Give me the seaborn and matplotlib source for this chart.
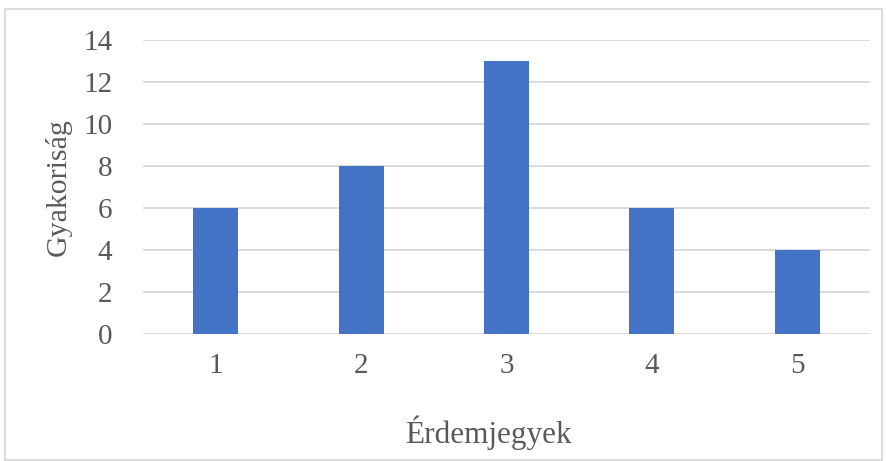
import matplotlib
matplotlib.use("Agg")
import matplotlib.pyplot as plt
import seaborn as sns
import pandas as pd
from matplotlib.patches import Rectangle

grades = ["1", "2", "3", "4", "5"]
counts = [6, 8, 13, 6, 4]
y_ticks = [0, 2, 4, 6, 8, 10, 12, 14]

df = pd.DataFrame({"Érdemjegyek": grades, "Gyakoriság": counts})

sns.set_style("white")
plt.rcParams["font.family"] = ["Liberation Serif", "DejaVu Serif"]

W, H = 887, 461
fig = plt.figure(figsize=(W / 100, H / 100), dpi=100)
ax = fig.add_axes([143 / W, 1 - 334 / H, (870 - 143) / W, (334 - 40) / H])

sns.barplot(data=df, x="Érdemjegyek", y="Gyakoriság", color="#4472C4",
            saturation=1, width=0.31, linewidth=0, ax=ax, zorder=3)

ax.set_ylim(0, 14)
ax.set_xlim(-0.5, len(grades) - 0.5)
ax.set_yticks(y_ticks)
ax.yaxis.grid(True, color="#D9D9D9", linewidth=1.3, zorder=0)
ax.xaxis.grid(False)
for s in ax.spines.values():
    s.set_visible(False)
ax.tick_params(axis="both", length=0, labelsize=21, colors="#595959")
ax.tick_params(axis="y", pad=22)
ax.tick_params(axis="x", pad=14)
ax.set_xlabel("Érdemjegyek", fontsize=22.5, color="#595959", labelpad=26)
ax.xaxis.label.set_x((488 - 143) / (870 - 143))
ax.set_ylabel("Gyakoriság", fontsize=21.5, color="#595959", labelpad=8)

fig.patches.append(Rectangle((5.5 / W, 0.002), (882 - 5.5) / W, 1 - 9.5 / H - 0.002,
                             transform=fig.transFigure, fill=False,
                             edgecolor="#D9D9D9", linewidth=1.3))

fig.savefig("out.png", dpi=100)
